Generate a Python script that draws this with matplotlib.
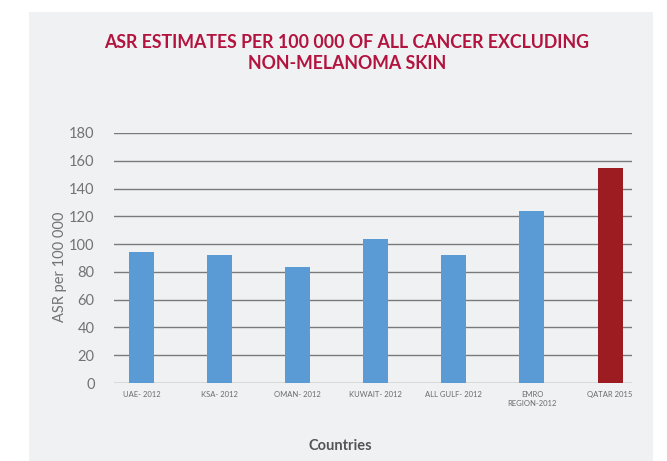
import matplotlib
matplotlib.use("Agg")
import matplotlib.pyplot as plt
from matplotlib.patches import Rectangle

# Données
pays = ["UAE- 2012", "KSA- 2012", "OMAN- 2012", "KUWAIT- 2012",
        "ALL GULF- 2012", "EMRO\nREGION-2012", "QATAR 2015"]
asr = [94, 92.5, 83.5, 104, 92, 124, 155]
couleurs = ["#5b9bd5"] * 6 + ["#9c1c22"]
graduations = [0, 20, 40, 60, 80, 100, 120, 140, 160, 180]

plt.rcParams['font.family'] = ['Lato', 'DejaVu Sans']

fig = plt.figure(figsize=(6.67, 4.61), dpi=100)
fig.patch.set_facecolor("white")

# panneau gris de fond
fig.patches.append(Rectangle((29 / 667, 0), (653 - 29) / 667, (461 - 12) / 461,
                             transform=fig.transFigure, facecolor="#f0f1f3",
                             edgecolor="none", zorder=-5))

ax = fig.add_axes([114 / 667, (461 - 383) / 461, (632 - 114) / 667, (383 - 133) / 461])
ax.set_facecolor("none")

x = list(range(len(pays)))
ax.bar(x, asr, width=0.32, color=couleurs, zorder=3)

ax.set_ylim(0, 180)
ax.set_xlim(-0.35, 6.28)
ax.set_yticks(graduations)
ax.yaxis.grid(True, color="#7a7a7a", linewidth=1.0, zorder=1)
ax.set_axisbelow(True)
ax.tick_params(axis="y", length=0, labelsize=10.5, labelcolor="#737373", pad=14)
ax.set_xticks(x)
ax.set_xticklabels(pays, fontsize=5.5, color="#6b6b6b", linespacing=1.2)
ax.tick_params(axis="x", length=0, pad=6)
for s in ax.spines.values():
    s.set_visible(False)

fig.text(60 / 667, 1 - 267 / 461, "ASR per 100 000", rotation=90, ha="center",
         va="center", fontsize=10.5, color="#737373")
fig.text(340 / 667, 1 - 446 / 461, "Countries", ha="center", va="center",
         fontsize=10.5, fontweight="bold", color="#555555")
fig.text(347 / 667, 1 - 53 / 461,
         "ASR ESTIMATES PER 100 000 OF ALL CANCER EXCLUDING\nNON-MELANOMA SKIN",
         ha="center", va="center", fontsize=12.8, fontweight="bold",
         color="#b3143f", linespacing=1.3)

fig.savefig("out.png", dpi=100)
